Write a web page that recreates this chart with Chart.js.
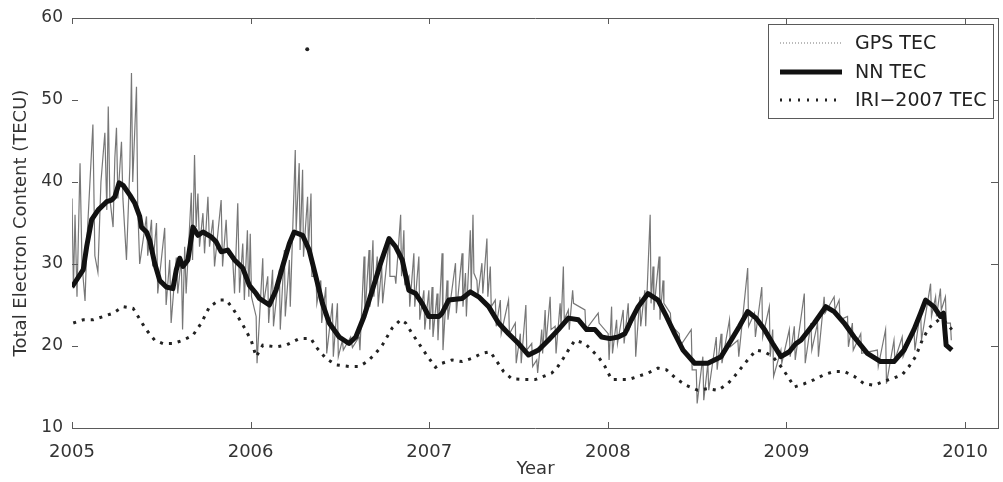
<!DOCTYPE html>
<html>
<head>
<meta charset="utf-8">
<script src="https://cdn.jsdelivr.net/npm/chart.js@4.4.1/dist/chart.umd.min.js"></script>
<style>
  html, body { margin: 0; padding: 0; background: #fff; }
  #wrap { width: 1003px; height: 482px; position: relative; }
</style>
</head>
<body>
<div id="wrap"><canvas id="tecChart"></canvas></div>
<script>
const gpsYears = [
  2005.000, 2005.008, 2005.017, 2005.028, 2005.045, 2005.056, 2005.073, 2005.084, 2005.117, 2005.128,
  2005.145, 2005.162, 2005.184, 2005.195, 2005.203, 2005.212, 2005.230, 2005.240, 2005.249, 2005.257,
  2005.277, 2005.285, 2005.305, 2005.324, 2005.333, 2005.340, 2005.361, 2005.368, 2005.379, 2005.417,
  2005.424, 2005.445, 2005.452, 2005.473, 2005.480, 2005.519, 2005.527, 2005.547, 2005.555, 2005.584,
  2005.592, 2005.612, 2005.619, 2005.631, 2005.639, 2005.668, 2005.675, 2005.686, 2005.695, 2005.705,
  2005.714, 2005.733, 2005.742, 2005.761, 2005.770, 2005.789, 2005.798, 2005.835, 2005.843, 2005.863,
  2005.871, 2005.900, 2005.910, 2005.928, 2005.938, 2005.956, 2005.965, 2005.982, 2005.990, 2005.998,
  2006.005, 2006.031, 2006.036, 2006.068, 2006.073, 2006.096, 2006.101, 2006.123, 2006.128, 2006.161,
  2006.166, 2006.189, 2006.194, 2006.217, 2006.222, 2006.250, 2006.255, 2006.272, 2006.277, 2006.291,
  2006.296, 2006.319, 2006.324, 2006.338, 2006.343, 2006.366, 2006.371, 2006.393, 2006.398, 2006.421,
  2006.426, 2006.458, 2006.463, 2006.486, 2006.491, 2006.514, 2006.519, 2006.560, 2006.570, 2006.607,
  2006.612, 2006.635, 2006.640, 2006.663, 2006.668, 2006.685, 2006.690, 2006.709, 2006.714, 2006.734,
  2006.739, 2006.775, 2006.780, 2006.808, 2006.813, 2006.840, 2006.845, 2006.858, 2006.863, 2006.886,
  2006.891, 2006.914, 2006.919, 2006.942, 2006.947, 2006.970, 2006.975, 2006.998, 2007.003, 2007.016,
  2007.021, 2007.044, 2007.049, 2007.072, 2007.077, 2007.100, 2007.105, 2007.147, 2007.152, 2007.184,
  2007.189, 2007.203, 2007.208, 2007.230, 2007.235, 2007.245, 2007.250, 2007.267, 2007.272, 2007.295,
  2007.300, 2007.323, 2007.328, 2007.342, 2007.347, 2007.370, 2007.375, 2007.398, 2007.403, 2007.444,
  2007.449, 2007.482, 2007.487, 2007.510, 2007.515, 2007.541, 2007.546, 2007.574, 2007.579, 2007.602,
  2007.607, 2007.630, 2007.635, 2007.649, 2007.654, 2007.677, 2007.682, 2007.705, 2007.710, 2007.733,
  2007.738, 2007.751, 2007.756, 2007.779, 2007.784, 2007.803, 2007.808, 2007.872, 2007.877, 2007.946,
  2007.951, 2008.002, 2008.007, 2008.021, 2008.026, 2008.049, 2008.054, 2008.086, 2008.091, 2008.114,
  2008.119, 2008.151, 2008.156, 2008.179, 2008.184, 2008.207, 2008.212, 2008.237, 2008.242, 2008.253,
  2008.258, 2008.287, 2008.292, 2008.309, 2008.314, 2008.350, 2008.355, 2008.400, 2008.405, 2008.467,
  2008.472, 2008.495, 2008.500, 2008.532, 2008.537, 2008.560, 2008.565, 2008.607, 2008.612, 2008.634,
  2008.639, 2008.681, 2008.686, 2008.728, 2008.733, 2008.783, 2008.788, 2008.821, 2008.826, 2008.862,
  2008.867, 2008.904, 2008.909, 2008.923, 2008.928, 2008.969, 2008.974, 2009.016, 2009.021, 2009.044,
  2009.049, 2009.100, 2009.105, 2009.137, 2009.142, 2009.174, 2009.179, 2009.211, 2009.216, 2009.267,
  2009.272, 2009.295, 2009.300, 2009.342, 2009.347, 2009.369, 2009.374, 2009.416, 2009.421, 2009.509,
  2009.514, 2009.555, 2009.560, 2009.602, 2009.607, 2009.648, 2009.653, 2009.714, 2009.719, 2009.751,
  2009.756, 2009.807, 2009.812, 2009.835, 2009.840, 2009.862, 2009.867, 2009.890, 2009.895, 2009.918,
  2009.923
];
const gpsTec = [
  38, 27, 36, 26, 42.3, 30, 25.5, 33, 47, 31,
  29, 40, 46, 36.6, 49.2, 38, 34.5, 43, 46.6, 38,
  44.9, 38, 30.5, 42, 53.3, 40, 51.6, 37, 30, 35.8,
  31, 35.4, 29.7, 35, 26.4, 34.4, 25, 30.5, 22.8, 30.8,
  26.4, 30.7, 22, 32.1, 26.4, 38.7, 30.5, 43.3, 34.5, 38.6,
  32.1, 36.2, 31.3, 38.2, 32.1, 35.4, 29.7, 37.8, 29.7, 35.4,
  31.3, 30.5, 26.4, 37.4, 26.5, 32.5, 25.6, 34.1, 26.0, 33.7,
  26.0, 23.6, 17.9, 30.7, 25.2, 28.5, 22.8, 29.3, 22.4, 29.3,
  22.0, 31.7, 23.6, 30.5, 24.8, 43.9, 34.1, 42.3, 31.7, 41.5,
  30.9, 38.2, 31.7, 38.6, 28.5, 28.5, 25.2, 28.0, 22.8, 27.2,
  19.1, 25.2, 18.7, 25.2, 18.7, 20.7, 19.5, 21.1, 19.8, 21.1,
  19.5, 30.9, 23.6, 31.7, 24.8, 32.9, 26.0, 30.9, 24.8, 29.7,
  25.2, 32.9, 28.5, 28.5, 27.6, 36.0, 28.5, 34.1, 27.6, 28.5,
  24.8, 31.3, 24.8, 30.9, 23.2, 26.8, 22.0, 26.8, 22.0, 27.2,
  21.1, 26.4, 20.7, 31.3, 19.5, 28.0, 23.2, 30.1, 24.0, 31.3,
  24.8, 28.9, 23.6, 34.1, 26.4, 36.0, 28.9, 28.0, 26.0, 30.1,
  26.4, 33.1, 26.0, 29.7, 24.8, 25.6, 22.4, 25.6, 21.5, 25.6,
  21.5, 22.8, 17.9, 21.5, 17.9, 25.0, 19.5, 20.3, 17.5, 18.3,
  16.7, 22.0, 19.1, 24.4, 20.3, 26.0, 22.0, 22.4, 19.1, 25.2,
  22.4, 29.7, 23.2, 24.4, 22.0, 26.8, 25.2, 24.4, 22.0, 24.0,
  22.8, 21.5, 18.3, 24.8, 19.1, 23.2, 20.3, 24.4, 20.3, 25.2,
  22.0, 24.0, 18.7, 26.0, 22.4, 26.8, 22.4, 36.0, 25.2, 29.7,
  24.4, 30.9, 23.2, 28.0, 25.2, 24.0, 22.5, 21.5, 20.0, 22.0,
  17.1, 17.1, 13.0, 18.7, 13.4, 17.9, 14.6, 21.1, 17.1, 21.5,
  17.9, 23.2, 19.9, 20.7, 18.7, 29.5, 22.4, 24.0, 21.1, 27.2,
  21.1, 24.8, 18.7, 22.0, 16.3, 19.5, 17.9, 22.0, 18.7, 22.4,
  18.3, 26.4, 17.9, 22.8, 19.5, 22.8, 18.7, 26.0, 24.0, 26.0,
  24.4, 25.6, 23.2, 23.6, 19.9, 22.8, 19.5, 21.5, 19.1, 19.5,
  17.5, 22.0, 15.4, 20.7, 18.3, 21.1, 18.7, 22.0, 19.5, 24.4,
  20.7, 27.6, 23.6, 26.0, 23.6, 27.0, 24.4, 26.0, 22.8, 22.8,
  20.7
];

// NN TEC (thick black)
const nnYears = [
  2005.000, 2005.063, 2005.082, 2005.110, 2005.147, 2005.194, 2005.222, 2005.240, 2005.264, 2005.286,
  2005.324, 2005.352, 2005.379, 2005.389, 2005.417, 2005.435, 2005.463, 2005.491, 2005.528, 2005.565,
  2005.584, 2005.603, 2005.621, 2005.649, 2005.677, 2005.705, 2005.733, 2005.780, 2005.807, 2005.835,
  2005.872, 2005.910, 2005.956, 2005.993, 2006.031, 2006.049, 2006.105, 2006.142, 2006.179, 2006.217,
  2006.244, 2006.291, 2006.328, 2006.366, 2006.402, 2006.440, 2006.496, 2006.551, 2006.589, 2006.635,
  2006.681, 2006.728, 2006.775, 2006.812, 2006.849, 2006.886, 2006.924, 2006.960, 2006.998, 2007.054,
  2007.072, 2007.109, 2007.184, 2007.230, 2007.277, 2007.333, 2007.388, 2007.444, 2007.500, 2007.556,
  2007.612, 2007.667, 2007.723, 2007.779, 2007.835, 2007.881, 2007.928, 2007.965, 2008.012, 2008.058,
  2008.095, 2008.132, 2008.170, 2008.225, 2008.281, 2008.328, 2008.374, 2008.421, 2008.486, 2008.560,
  2008.634, 2008.690, 2008.737, 2008.783, 2008.830, 2008.877, 2008.923, 2008.969, 2009.016, 2009.053,
  2009.081, 2009.156, 2009.220, 2009.267, 2009.323, 2009.379, 2009.453, 2009.527, 2009.602, 2009.658,
  2009.714, 2009.751, 2009.779, 2009.825, 2009.862, 2009.879, 2009.894, 2009.926
];
const nnTec = [
  27.2, 29.3, 32.1, 35.4, 36.6, 37.6, 37.8, 38.2, 39.9, 39.6,
  38.4, 37.4, 35.8, 34.5, 33.9, 32.9, 30.1, 28.0, 27.2, 27.0,
  29.3, 30.7, 29.7, 30.5, 34.5, 33.5, 33.9, 33.3, 32.7, 31.5,
  31.7, 30.5, 29.5, 27.4, 26.4, 25.8, 25.0, 26.8, 29.7, 32.5,
  33.9, 33.5, 31.7, 28.4, 25.2, 22.8, 21.1, 20.3, 21.1, 23.6,
  26.8, 30.1, 33.1, 32.1, 30.5, 26.8, 26.4, 25.2, 23.6, 23.6,
  24.0, 25.6, 25.8, 26.6, 26.0, 24.8, 22.8, 21.5, 20.3, 18.9,
  19.5, 20.7, 22.0, 23.4, 23.2, 22.0, 22.0, 21.1, 20.9, 21.1,
  21.5, 23.2, 24.8, 26.4, 25.6, 23.6, 21.5, 19.5, 17.9, 17.9,
  18.7, 20.7, 22.4, 24.2, 23.4, 22.0, 20.3, 18.7, 19.3, 20.3,
  20.7, 22.8, 24.8, 24.2, 22.8, 21.1, 19.1, 18.1, 18.1, 19.5,
  22.0, 24.0, 25.6, 24.8, 23.6, 24.0, 20.1, 19.5
];

// IRI-2007 TEC (dotted)
const iriYears = [
  2005.007, 2005.063, 2005.119, 2005.175, 2005.230, 2005.286, 2005.342, 2005.370, 2005.398, 2005.426,
  2005.463, 2005.509, 2005.565, 2005.621, 2005.677, 2005.724, 2005.770, 2005.826, 2005.863, 2005.900,
  2005.956, 2006.003, 2006.031, 2006.068, 2006.142, 2006.198, 2006.272, 2006.338, 2006.366, 2006.421,
  2006.477, 2006.551, 2006.607, 2006.653, 2006.700, 2006.737, 2006.793, 2006.840, 2006.868, 2006.905,
  2006.942, 2006.979, 2007.035, 2007.072, 2007.128, 2007.184, 2007.239, 2007.295, 2007.342, 2007.379,
  2007.416, 2007.463, 2007.537, 2007.593, 2007.640, 2007.686, 2007.714, 2007.751, 2007.779, 2007.816,
  2007.872, 2007.909, 2007.946, 2007.984, 2008.021, 2008.058, 2008.114, 2008.170, 2008.225, 2008.281,
  2008.328, 2008.383, 2008.439, 2008.504, 2008.560, 2008.616, 2008.672, 2008.709, 2008.746, 2008.783,
  2008.830, 2008.877, 2008.923, 2008.969, 2009.007, 2009.044, 2009.100, 2009.156, 2009.211, 2009.267,
  2009.323, 2009.379, 2009.435, 2009.491, 2009.546, 2009.602, 2009.648, 2009.686, 2009.723, 2009.760,
  2009.797, 2009.853, 2009.879, 2009.926
];
const iriTec = [
  22.8, 23.2, 23.2, 23.6, 24.0, 24.8, 24.6, 23.6, 22.6, 21.7,
  20.7, 20.3, 20.3, 20.7, 21.3, 22.8, 24.8, 25.6, 25.6, 24.6,
  22.6, 20.7, 18.7, 20.1, 19.9, 20.1, 20.9, 20.9, 19.9, 18.5,
  17.7, 17.5, 17.5, 18.1, 19.1, 20.1, 22.2, 23.2, 22.8, 21.5,
  20.3, 19.1, 17.4, 17.9, 18.3, 18.1, 18.5, 19.1, 19.3, 18.1,
  16.9, 16.0, 15.9, 15.9, 16.3, 16.7, 17.3, 18.5, 19.5, 20.7,
  20.3, 19.5, 18.7, 17.5, 15.9, 15.9, 15.9, 16.3, 16.7, 17.3,
  17.1, 16.0, 15.2, 14.6, 14.8, 14.6, 15.4, 16.3, 17.3, 18.3,
  19.5, 19.3, 18.7, 17.5, 16.3, 15.0, 15.4, 15.9, 16.5, 16.9,
  16.9, 16.3, 15.4, 15.2, 15.7, 16.1, 16.5, 17.5, 18.7, 20.7,
  22.2, 23.2, 23.2, 22.0
];

// stray GPS point above the curves
const strayYears = [2006.317];
const strayTec = [56.2];

const yearTicks = [2005, 2006, 2007, 2008, 2009, 2010];
const tecTicks = [10, 20, 30, 40, 50, 60];

const FONT = '"DejaVu Sans", "Liberation Sans", Arial, sans-serif';
const toPoints = (xs, ys) => xs.map((x, i) => ({ x: x, y: ys[i] }));

// matlab style box: top/bottom/right edges plus inward ticks
const framePlugin = {
    id: 'frame',
    afterDatasetsDraw(chart) {
        const { ctx, chartArea: a, scales } = chart;
        ctx.save();
        ctx.strokeStyle = '#5a5a5a';
        ctx.lineWidth = 1;
        ctx.beginPath();
        ctx.moveTo(a.left, a.top + 0.5);
        ctx.lineTo(a.right, a.top + 0.5);
        ctx.moveTo(a.left, a.bottom + 0.5);
        ctx.lineTo(a.right, a.bottom + 0.5);
        ctx.moveTo(a.right - 0.5, a.top);
        ctx.lineTo(a.right - 0.5, a.bottom);
        yearTicks.forEach(function(v) {
            const x = Math.round(scales.x.getPixelForValue(v)) + 0.5;
            ctx.moveTo(x, a.bottom);
            ctx.lineTo(x, a.bottom - 6);
            ctx.moveTo(x, a.top);
            ctx.lineTo(x, a.top + 6);
        });
        tecTicks.slice(1, -1).forEach(function(v) {
            const y = Math.round(scales.y.getPixelForValue(v)) + 0.5;
            ctx.moveTo(a.left, y);
            ctx.lineTo(a.left + 6, y);
            ctx.moveTo(a.right, y);
            ctx.lineTo(a.right - 8, y);
        });
        ctx.stroke();
        ctx.restore();
    }
};

// legend box in the upper right corner
const legendPlugin = {
    id: 'boxLegend',
    afterDraw(chart) {
        const ctx = chart.ctx;
        const box = { x: 768, y: 24, w: 225, h: 94 };
        const rows = [43, 72, 100];
        ctx.save();
        ctx.fillStyle = '#fff';
        ctx.fillRect(box.x, box.y, box.w, box.h);
        ctx.strokeStyle = '#5a5a5a';
        ctx.lineWidth = 1;
        ctx.strokeRect(box.x + 0.5, box.y + 0.5, box.w, box.h);
        chart.data.datasets.slice(0, 3).forEach(function(ds, i) {
            const y = rows[i];
            ctx.beginPath();
            ctx.strokeStyle = ds.borderColor;
            ctx.lineWidth = ds.borderWidth;
            ctx.lineCap = 'butt';
            ctx.setLineDash(ds.legendDash || ds.borderDash || []);
            ctx.moveTo(780, y);
            ctx.lineTo(842, y);
            ctx.stroke();
            ctx.setLineDash([]);
            ctx.fillStyle = '#222';
            ctx.font = '19px ' + FONT;
            ctx.textBaseline = 'middle';
            ctx.fillText(ds.label, 855, y + 1);
        });
        ctx.restore();
    }
};

const ctx = document.getElementById('tecChart').getContext('2d');

new Chart(ctx, {
    type: 'line',
    data: {
        datasets: [{
            label: 'GPS TEC',
            data: toPoints(gpsYears, gpsTec),
            borderColor: 'rgba(95, 95, 95, 0.85)',
            borderWidth: 1.2,
            legendDash: [1, 2],
            pointRadius: 0,
            order: 3
        }, {
            label: 'NN TEC',
            data: toPoints(nnYears, nnTec),
            borderColor: '#111',
            borderWidth: 5,
            borderJoinStyle: 'round',
            pointRadius: 0,
            order: 1
        }, {
            label: 'IRI\u22122007 TEC',
            data: toPoints(iriYears, iriTec),
            borderColor: '#222',
            borderWidth: 3,
            borderDash: [3, 6],
            legendDash: [2, 7],
            pointRadius: 0,
            order: 2
        }, {
            label: 'stray',
            data: toPoints(strayYears, strayTec),
            showLine: false,
            pointRadius: 2,
            pointBackgroundColor: '#222',
            pointBorderWidth: 0,
            order: 0
        }]
    },
    options: {
        responsive: true,
        maintainAspectRatio: false,
        animation: false,
        layout: { padding: { top: 18, right: 1, left: 0, bottom: 0 } },
        plugins: {
            legend: { display: false },
            tooltip: { enabled: false }
        },
        scales: {
            x: {
                type: 'linear',
                min: 2005,
                max: 2010.19,
                afterBuildTicks: function(scale) {
                    scale.ticks = yearTicks.map(v => ({ value: v }));
                },
                afterFit: function(scale) { scale.height = 54; },
                grid: { display: false },
                border: { display: false },
                ticks: {
                    color: '#333',
                    font: { family: FONT, size: 18 },
                    padding: 6,
                    maxRotation: 0,
                    callback: v => String(v)
                },
                title: {
                    display: true,
                    text: 'Year',
                    color: '#333',
                    font: { family: FONT, size: 18 },
                    padding: { top: 0, bottom: 2 }
                }
            },
            y: {
                min: 10,
                max: 60,
                afterBuildTicks: function(scale) {
                    scale.ticks = tecTicks.map(v => ({ value: v }));
                },
                afterFit: function(scale) { scale.width = 72; },
                grid: { display: false },
                border: { display: false },
                ticks: {
                    color: '#333',
                    font: { family: FONT, size: 17 },
                    padding: 1
                },
                title: {
                    display: true,
                    text: 'Total Electron Content (TECU)',
                    color: '#333',
                    font: { family: FONT, size: 18 },
                    padding: { top: 11, bottom: 0 }
                }
            }
        }
    },
    plugins: [framePlugin, legendPlugin]
});
</script>
</body>
</html>
